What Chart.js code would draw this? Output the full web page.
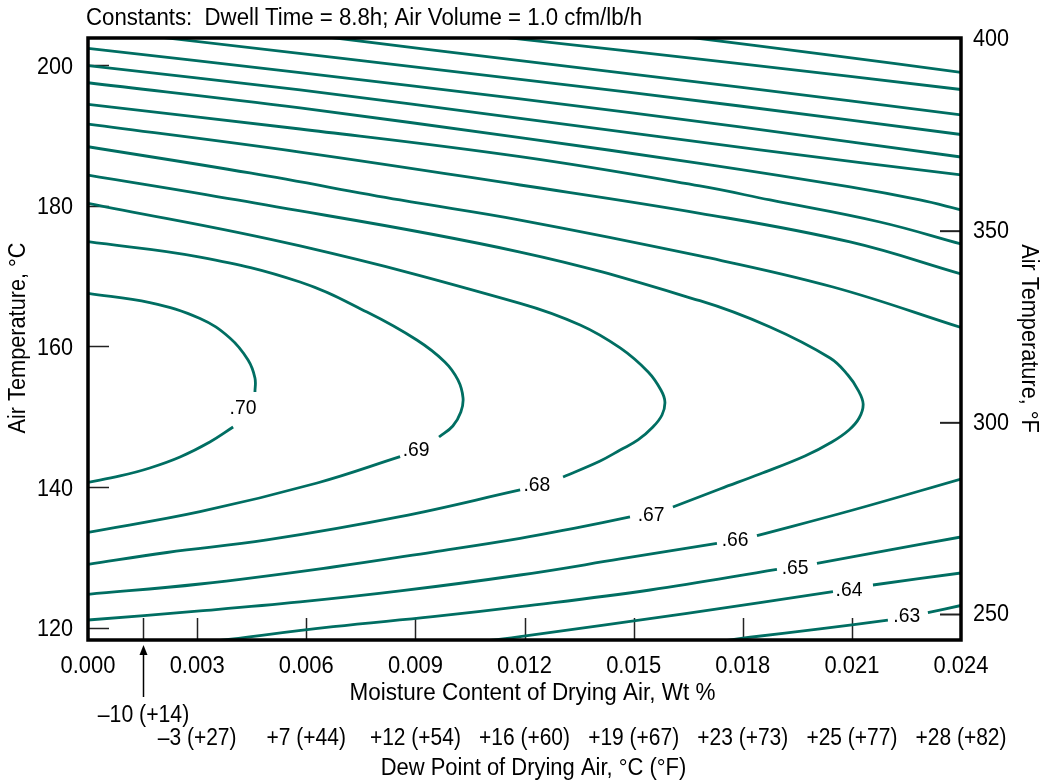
<!DOCTYPE html>
<html><head><meta charset="utf-8">
<script src="https://cdn.jsdelivr.net/npm/chart.js@4.4.1/dist/chart.umd.min.js"></script>
<style>html,body{margin:0;padding:0;background:#fff;}#wrap{width:1040px;height:782px;}</style>
</head><body><div id="wrap"><canvas id="c" width="1040" height="782"></canvas></div>
<script>
const FONT = "'Liberation Sans', Arial, Helvetica, sans-serif";
const LINE = '#006e62';

// Axis ticks
const xTicks = [0, 0.003, 0.006, 0.009, 0.012, 0.015, 0.018, 0.021, 0.024];
const yTicks = [120, 140, 160, 180, 200];
const fTicks = [250, 300, 350, 400];
// Dew point secondary labels (placed at moisture content values)
const dewArrowX = 0.0015;
const dewArrowLabel = '\u201310 (+14)';
const dewX = [0.003, 0.006, 0.009, 0.012, 0.015, 0.018, 0.021, 0.024];
const dewLabels = ['\u20133 (+27)', '+7 (+44)', '+12 (+54)', '+16 (+60)', '+19 (+67)', '+23 (+73)', '+25 (+77)', '+28 (+82)'];
const dewTickX = [0.0015, 0.003, 0.006, 0.009, 0.012, 0.015, 0.018, 0.021];

// Contour lines: x = moisture content (wt %), y = air temperature (°C); null = gap for a label
const c57x = [0.01655, 0.0204, 0.024];
const c57y = [203.94, 201.42, 198.96];
const c58x = [0.01146, 0.01779, 0.024];
const c58y = [203.92, 200.28, 196.52];
const c59x = [0.00665, 0.01188, 0.01792, 0.024];
const c59y = [203.94, 200.61, 196.87, 192.91];
const c60x = [0.00198, 0.01188, 0.01792, 0.024];
const c60y = [203.95, 197.97, 194.17, 190.12];
const c61x = [0, 0.00583, 0.01188, 0.01792, 0.024];
const c61y = [202.37, 198.93, 195.17, 191.19, 186.92];
const c62x = [0, 0.00583, 0.01188, 0.01847, 0.024];
const c62y = [199.9, 196.45, 192.42, 187.92, 184.39];
const c63upX = [0, 0.00583, 0.01188, 0.01682, 0.02095, 0.02287, 0.024];
const c63upY = [197.48, 193.89, 189.66, 186.02, 182.66, 180.81, 179.41];
const c64upX = [0, 0.00583, 0.01188, 0.01682, 0.01875, 0.02177, 0.024];
const c64upY = [194.41, 190.9, 186.96, 182.8, 180.81, 177.68, 174.55];
const c65upX = [0, 0.00583, 0.01188, 0.01682, 0.02095, 0.024];
const c65upY = [191.61, 187.63, 182.94, 178.92, 174.84, 170.29];
const c66upX = [0, 0.00445, 0.00858, 0.01188, 0.01682, 0.02048, 0.024];
const c66upY = [188.38, 184.65, 180.81, 177.96, 172.85, 168.44, 162.68];
const c67x = [0, 0.0041, 0.01188, 0.01682, 0.01875, 0.0204, 0.02089, 0.02117, 0.02131, 0.0212, 0.02092, 0.02045, 0.01971, 0.01847, 0.01737, 0.01608, null, 0.0149, 0.01339, 0.01188, 0.00948, 0.00674, 0.00308, 0];
const c67y = [184.36, 180.81, 173.41, 166.49, 162.75, 158.34, 155.93, 153.79, 151.8, 149.81, 148.11, 146.4, 144.41, 141.85, 139.72, 137.16, null, 135.74, 134.17, 132.71, 130.76, 128.63, 126.21, 124.75];
const c68x = [0, 0.00583, 0.01188, 0.01353, 0.01463, 0.0154, 0.01575, 0.01586, 0.01578, 0.01553, 0.01512, 0.01463, 0.01408, 0.01306, null, 0.01188, 0.00858, 0.00492, 0.00217, 0];
const c68y = [180.34, 174.27, 166.12, 163.04, 159.77, 156.35, 153.79, 152.09, 150.24, 148.53, 146.69, 145.26, 143.7, 141.43, null, 139.58, 135.78, 132.47, 130.69, 129.01];
const c69x = [0, 0.00308, 0.00583, 0.00767, 0.00904, 0.00981, 0.01017, 0.01031, 0.01025, 0.01003, 0.00965, null, 0.00858, 0.0063, 0.00308, 0];
const c69y = [174.88, 172.7, 169.15, 164.88, 160.9, 157.78, 155.22, 152.66, 150.67, 148.68, 147.11, null, 144.31, 140.57, 136.49, 133.56];
const c70x = [0, 0.0017, 0.00308, 0.0039, 0.0044, 0.00459, 0.00459, null, 0.00399, 0.00335, 0.00253, 0.0017, 0.00088, 0];
const c70y = [167.54, 166.23, 163.96, 161.19, 158.06, 155.5, 153.51, null, 148.53, 146.4, 144.27, 142.71, 141.57, 140.67];
const c66loX = [0, 0.00308, 0.00583, 0.00858, 0.01188, 0.01463, 0.01729, null, 0.01839, 0.02103, 0.024];
const c66loY = [121.09, 122.38, 123.66, 125.22, 127.49, 129.77, 132.0, null, 133.08, 136.73, 141.14];
const c65loX = [0.00363, 0.00674, 0.00948, 0.01188, 0.01545, 0.01894, null, 0.02004, 0.02205, 0.024];
const c65loY = [118.18, 120.14, 121.56, 122.99, 125.36, 128.3, null, 129.16, 131.05, 132.9];
const c64loX = [0.01105, 0.01188, 0.01647, 0.02048, null, 0.02158, 0.024];
const c64loY = [118.18, 118.72, 122.05, 125.12, null, 126.07, 127.78];
const c63loX = [0.01751, 0.0182, 0.02012, 0.02199, null, 0.02309, 0.024];
const c63loY = [118.17, 118.64, 119.82, 121.09, null, 122.13, 123.16];

// Contour value labels
const levelLabels = ['.70', '.69', '.68', '.67', '.66', '.65', '.64', '.63'];
const levelLabelX = [0.00426, 0.00902, 0.01234, 0.01548, 0.01779, 0.01944, 0.02092, 0.02251];
const levelLabelY = [151.38, 145.41, 140.43, 136.17, 132.61, 128.77, 125.64, 121.81];

const contours = [
  [c57x, c57y], [c58x, c58y], [c59x, c59y], [c60x, c60y], [c61x, c61y], [c62x, c62y],
  [c63upX, c63upY], [c64upX, c64upY], [c65upX, c65upY], [c66upX, c66upY],
  [c67x, c67y], [c68x, c68y], [c69x, c69y], [c70x, c70y],
  [c66loX, c66loY], [c65loX, c65loY], [c64loX, c64loY], [c63loX, c63loY]
];

function segments(xs, ys) {
  const segs = []; let cur = [];
  xs.forEach((x, i) => {
    if (x === null) { if (cur.length) segs.push(cur); cur = []; }
    else cur.push({x: x, y: ys[i]});
  });
  if (cur.length) segs.push(cur);
  return segs;
}
const datasets = [];
contours.forEach(([xs, ys]) => segments(xs, ys).forEach(seg => datasets.push({
  data: seg, showLine: true, borderColor: LINE, borderWidth: 2.8,
  pointRadius: 0, tension: 0.4, fill: false, clip: 0, yAxisID: 'y'
})));

function txt(ctx, s, x, y, o) {
  o = o || {};
  ctx.save();
  ctx.translate(x, y);
  if (o.rot) ctx.rotate(o.rot);
  ctx.scale(o.sx || 0.89, 1);
  ctx.font = (o.size || 24.7) + 'px ' + FONT;
  ctx.textAlign = o.align || 'center';
  ctx.textBaseline = 'alphabetic';
  ctx.fillStyle = '#000';
  ctx.fillText(s, 0, 0);
  ctx.restore();
}

const decor = {
  id: 'decor',
  beforeDatasetsDraw(chart) {
    const {ctx, chartArea: a, scales} = chart;
    ctx.save();
    ctx.strokeStyle = '#222';
    const seg = (x1, y1, x2, y2) => { ctx.beginPath(); ctx.moveTo(x1, y1); ctx.lineTo(x2, y2); ctx.stroke(); };
    ctx.lineWidth = 1.5;
    yTicks.forEach(v => { const p = Math.round(scales.y.getPixelForValue(v)) + 0.5; seg(a.left, p, a.left + 21, p); });
    ctx.lineWidth = 2;
    fTicks.forEach(v => { const p = scales.y2.getPixelForValue(v); if (p - a.top < 5) return; seg(a.right - 21, p, a.right, p); });
    ctx.lineWidth = 1.5;
    dewTickX.forEach(v => { const p = Math.round(scales.x.getPixelForValue(v)) + 0.5; seg(p, a.bottom - 22, p, a.bottom); });
    ctx.restore();
  },
  afterDatasetsDraw(chart) {
    const {ctx, chartArea: a, scales} = chart;
    levelLabels.forEach((t, i) => {
      txt(ctx, t, scales.x.getPixelForValue(levelLabelX[i]), scales.y.getPixelForValue(levelLabelY[i]) + 7.5, {size: 21, sx: 0.92});
    });
    ctx.save();
    ctx.strokeStyle = '#000';
    ctx.lineWidth = 3.5;
    ctx.strokeRect(a.left, a.top, a.right - a.left, a.bottom - a.top);
    ctx.restore();
  },
  afterDraw(chart) {
    const {ctx, chartArea: a, scales} = chart;
    const midY = (a.top + a.bottom) / 2;
    txt(ctx, 'Constants:  Dwell Time = 8.8h; Air Volume = 1.0 cfm/lb/h', a.left - 2, 25, {align: 'left', sx: 0.90});
    xTicks.forEach(v => txt(ctx, v.toFixed(3), scales.x.getPixelForValue(v), 673, {sx: 0.89}));
    yTicks.forEach(v => txt(ctx, String(v), a.left - 15, scales.y.getPixelForValue(v) + 8.8, {align: 'right', sx: 0.875}));
    fTicks.forEach(v => txt(ctx, String(v), a.right + 12, scales.y2.getPixelForValue(v) + 6.8, {align: 'left', sx: 0.875}));
    txt(ctx, 'Air Temperature, \u00b0C', 25, midY - 1, {rot: -Math.PI / 2, sx: 0.88});
    txt(ctx, 'Air Temperature, \u00b0F', 1022, midY - 0.5, {rot: Math.PI / 2, sx: 0.88});
    const midX = (a.left + a.right) / 2;
    txt(ctx, 'Moisture Content of Drying Air, Wt %', midX + 8, 700, {sx: 0.91});
    const ax = Math.round(scales.x.getPixelForValue(dewArrowX)) + 0.5;
    txt(ctx, dewArrowLabel, ax, 722, {sx: 0.86});
    dewX.forEach((v, i) => txt(ctx, dewLabels[i], scales.x.getPixelForValue(v), 745, {sx: 0.85}));
    txt(ctx, 'Dew Point of Drying Air, \u00b0C (\u00b0F)', midX + 9, 775, {sx: 0.89});
    ctx.save();
    ctx.strokeStyle = '#000';
    ctx.fillStyle = '#000';
    ctx.lineWidth = 1.5;
    ctx.beginPath(); ctx.moveTo(ax, 697); ctx.lineTo(ax, 652); ctx.stroke();
    ctx.beginPath(); ctx.moveTo(ax, 645); ctx.lineTo(ax - 4, 655); ctx.lineTo(ax + 4, 655); ctx.closePath(); ctx.fill();
    ctx.restore();
  }
};

const hidden = {grid: {display: false, drawTicks: false}, border: {display: false}};
new Chart(document.getElementById('c'), {
  type: 'scatter',
  data: {datasets},
  options: {
    responsive: false, animation: false, devicePixelRatio: 1, events: [],
    layout: {padding: {top: 38, left: 0, right: 0, bottom: 0}},
    plugins: {legend: {display: false}, tooltip: {enabled: false}, title: {display: false}},
    scales: {
      x: Object.assign({
        type: 'linear', position: 'bottom', min: 0, max: 0.024,
        afterBuildTicks: s => { s.ticks = xTicks.map(v => ({value: v})); },
        ticks: {display: false},
        afterFit: s => { s.height = 142; }
      }, hidden),
      y: Object.assign({
        type: 'linear', position: 'left', min: 118.25, max: 203.84,
        afterBuildTicks: s => { s.ticks = yTicks.map(v => ({value: v})); },
        ticks: {display: false},
        afterFit: s => { s.width = 88; }
      }, hidden),
      y2: Object.assign({
        type: 'linear', position: 'right', min: 243.35, max: 400.39,
        afterBuildTicks: s => { s.ticks = fTicks.map(v => ({value: v})); },
        ticks: {display: false},
        afterFit: s => { s.width = 79; }
      }, hidden)
    }
  },
  plugins: [decor]
});
</script>
</body></html>
